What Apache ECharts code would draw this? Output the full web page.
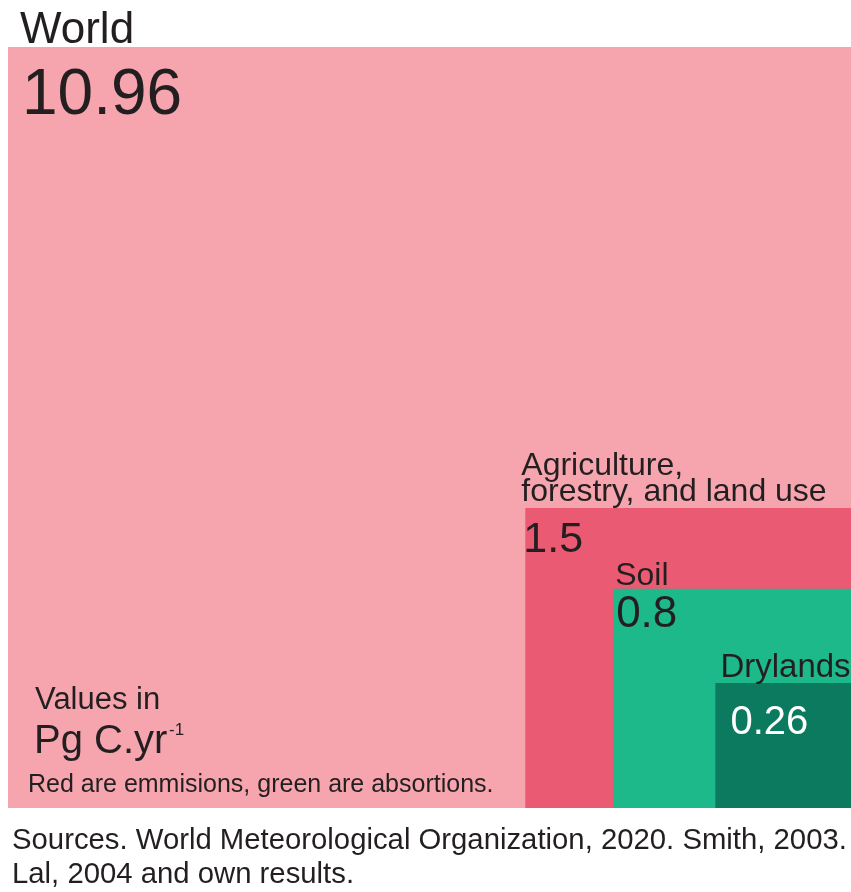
<!DOCTYPE html>
<html>
<head>
<meta charset="utf-8">
<title>Carbon emissions and absorptions</title>
<script src="https://cdn.jsdelivr.net/npm/echarts@6/dist/echarts.min.js"></script>
<style>
  html, body { margin: 0; padding: 0; background: #ffffff; }
  #chart { width: 851px; height: 892px; }
</style>
</head>
<body>
<div id="chart"></div>
<script>
// Flux figures, Pg C per year
const categories = ['World', 'Agriculture,\nforestry, and land use', 'Soil', 'Drylands'];
const values = [10.96, 1.5, 0.8, 0.26];
const valueLabels = ['10.96', '1.5', '0.8', '0.26'];

// Appearance of each nested square
const FONT = '"Liberation Sans", Arial, sans-serif';
const INK = '#231F20';
const boxColors = ['#F6A5AE', '#EB5A73', '#1DB98B', '#0B7A5E'];
const nameStyle = [
  { dx: 12, dy: 6, size: 44, lineHeight: 44 },
  { dx: -4, dy: -3, size: 32, lineHeight: 26 },
  { dx: 2, dy: 3, size: 32, lineHeight: 32 },
  { dx: 5, dy: 1, size: 33, lineHeight: 33 }
];
const valueStyle = [
  { dx: 14, dy: 17, size: 64, color: INK },
  { dx: -2, dy: 11, size: 43, color: INK },
  { dx: 3, dy: 4, size: 44, color: INK },
  { dx: 15, dy: 20, size: 40, color: '#FFFFFF' }
];

const chart = echarts.init(document.getElementById('chart'), null, { renderer: 'canvas' });

// squares share the bottom-right corner; side length grows with sqrt(value)
const seriesData = values.map((v, i) => ({ name: categories[i], value: [Math.sqrt(v), Math.sqrt(v), v, i] }));

function renderItem(params, api) {
  const i = api.value(3);
  const side = api.value(0);
  const cs = params.coordSys;
  const corner = api.coord([0, 0]);
  const far = api.coord([side, side]);
  // keep the square within the plotting area
  const x0 = Math.max(Math.min(far[0], corner[0]), cs.x);
  const y0 = Math.max(Math.min(far[1], corner[1]), cs.y);
  const x1 = Math.min(Math.max(far[0], corner[0]), cs.x + cs.width);
  const y1 = Math.min(Math.max(far[1], corner[1]), cs.y + cs.height);
  const ns = nameStyle[i];
  const vs = valueStyle[i];
  return {
    type: 'group',
    children: [
      {
        type: 'rect',
        shape: { x: x0, y: y0, width: x1 - x0, height: y1 - y0 },
        style: { fill: boxColors[i] }
      },
      {
        type: 'text',
        x: x0 + ns.dx,
        y: y0 + ns.dy,
        style: {
          text: categories[i],
          fontFamily: FONT,
          fontSize: ns.size,
          lineHeight: ns.lineHeight,
          fill: INK,
          align: 'left',
          verticalAlign: 'bottom'
        }
      },
      {
        type: 'text',
        x: x0 + vs.dx,
        y: y0 + vs.dy,
        style: {
          text: valueLabels[i],
          fontFamily: FONT,
          fontSize: vs.size,
          fill: vs.color,
          align: 'left',
          verticalAlign: 'top'
        }
      }
    ]
  };
}

const option = {
  animation: false,
  backgroundColor: '#ffffff',
  grid: { left: 8, top: 47, width: 843, height: 761 },
  xAxis: { type: 'value', inverse: true, min: 0, max: 3.17, show: false },
  yAxis: { type: 'value', min: 0, max: 3.106, show: false },
  series: [{
    type: 'custom',
    renderItem: renderItem,
    data: seriesData,
    encode: { x: 0, y: 1 },
    clip: false,
    silent: true
  }],
  graphic: [
    { type: 'text', z: 100, left: 35, top: 685, style: { text: 'Values in', font: '31px ' + FONT, fill: INK } },
    { type: 'text', z: 100, left: 34, top: 722, style: { text: 'Pg C.yr', font: '40px ' + FONT, fill: INK } },
    { type: 'text', z: 100, left: 169, top: 722, style: { text: '-1', font: '17px ' + FONT, fill: INK } },
    { type: 'text', z: 100, left: 28, top: 773, style: { text: 'Red are emmisions, green are absortions.', font: '25px ' + FONT, fill: INK } },
    { type: 'text', z: 100, left: 12, top: 824, style: { text: 'Sources. World Meteorological Organization, 2020. Smith, 2003.\nLal, 2004 and own results.', font: '29.3px ' + FONT, lineHeight: 34, fill: INK } }
  ]
};

chart.setOption(option);
</script>
</body>
</html>
